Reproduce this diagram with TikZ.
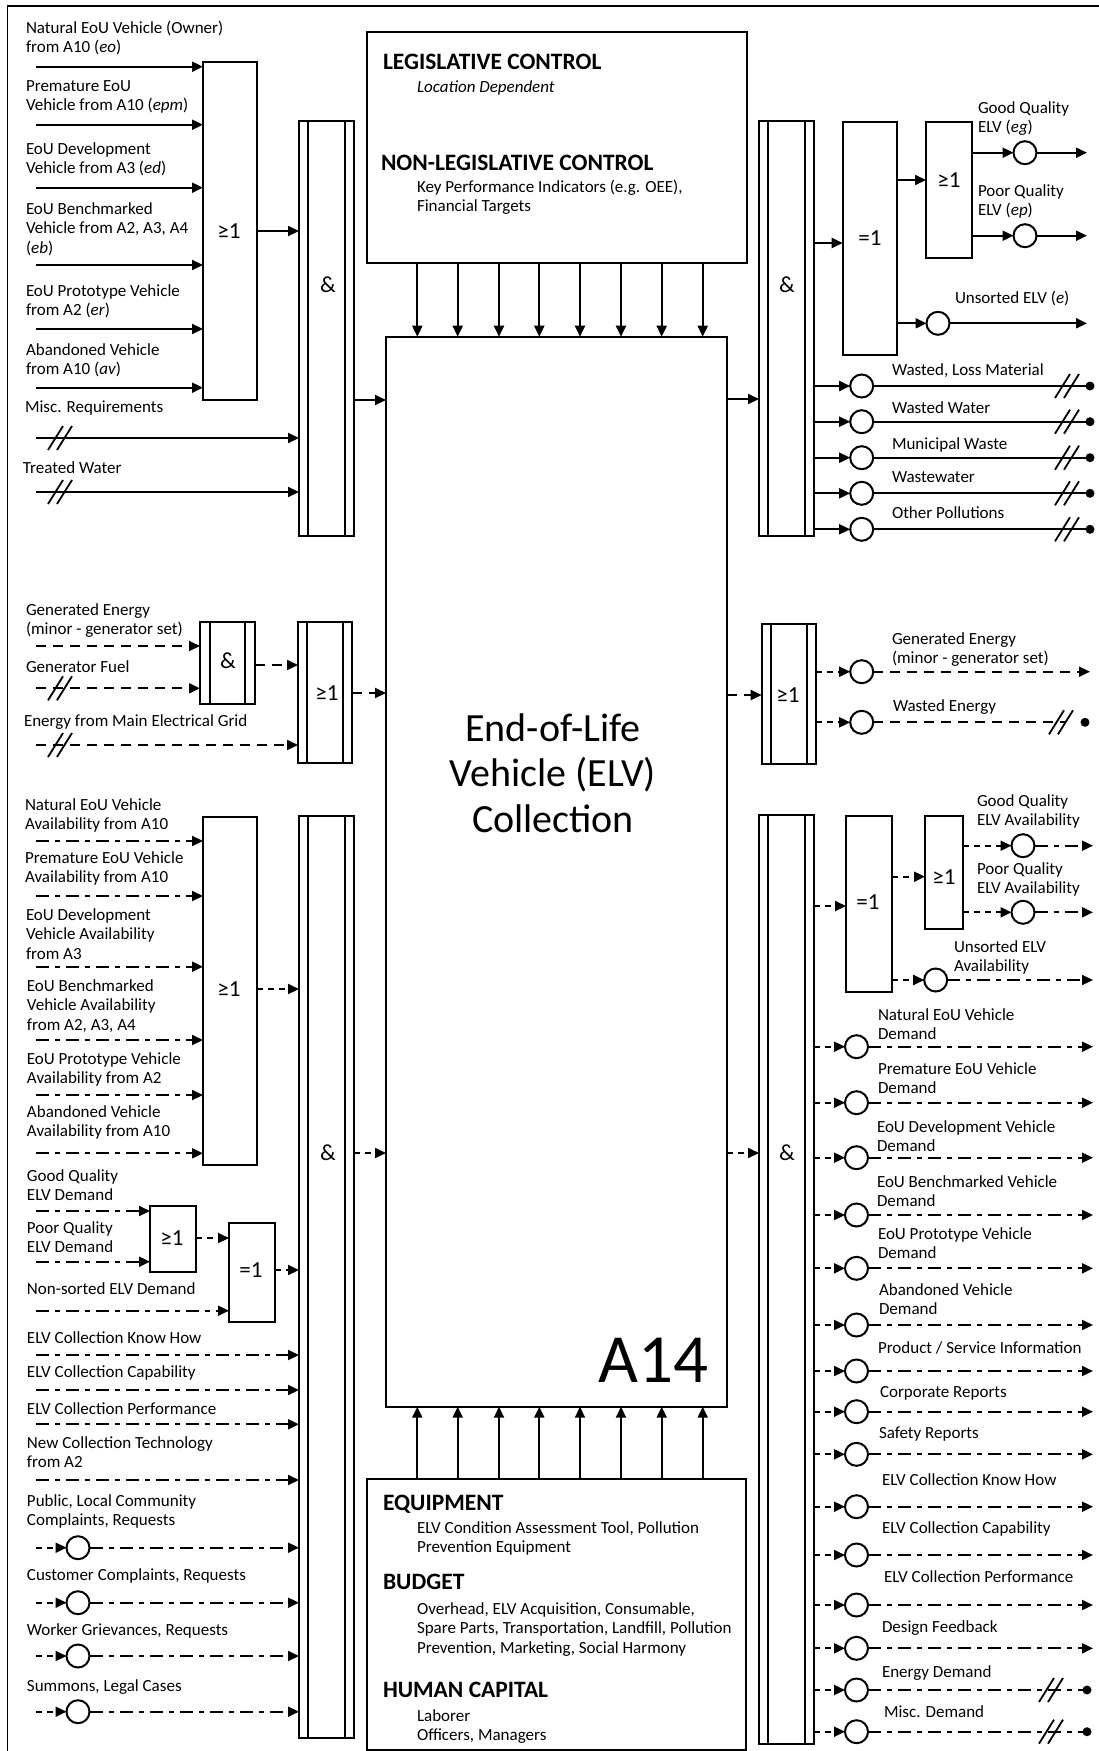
\documentclass[tikz,border=0pt]{standalone}
\usepackage{fontspec}
\setmainfont{Carlito}
\usetikzlibrary{arrows.meta}
\newcommand\dblbar[2]{%
  \draw[ln] ([xshift=#2]#1.north west) -- ([xshift=#2]#1.south west);
  \draw[ln] ([xshift=-#2]#1.north east) -- ([xshift=-#2]#1.south east);}
\newcommand\gbox[5]{\node[box, minimum width=#4pt, minimum height=#5pt] (#1) at (#2,#3) {};}
\newcommand\ml[1]{\begin{tabular}[t]{@{}l@{}}#1\end{tabular}}
\begin{document}
\begin{tikzpicture}[x=1pt,y=-1pt,
  every node/.style={inner sep=0pt, outer sep=0pt},
  ln/.style={line width=2pt},
  box/.style={draw, line width=2pt, anchor=north west, rectangle},
  gt/.style={font=\fontsize{23}{26}\selectfont},
  arr/.style={line width=2pt,-{Triangle[length=11pt,width=10pt]}},
  en/.style={dash pattern=on 10pt off 7pt},
  inf/.style={dash pattern=on 13pt off 6pt on 5pt off 6pt},
  sh/.style={dash pattern=on 6pt off 5pt},
  lab/.style={anchor=base west, font=\fontsize{17}{19.5}\selectfont},
  hd/.style={anchor=base west, font=\fontsize{23.5}{26}\selectfont\bfseries},
  circ/.style={circle, draw, line width=2pt, minimum size=23pt},
  dot/.style={circle, fill, minimum size=9pt},
  brk/.pic={\draw[line width=1.8pt,solid] (-12,12) -- (3,-12) (-3,12) -- (12,-12);}
]
\useasboundingbox (0,0) rectangle (1099,1751);
\draw[line width=1.5pt] (7.5,1760) -- (7.5,6) -- (1110,6);

% ---------- central boxes ----------
\gbox{ctrl}{367}{32}{380}{231}
\gbox{main}{386}{336.7}{340.5}{1070}
\gbox{mech}{367}{1479}{379}{271}

\node[hd] (h1) at (383,69) {LEGISLATIVE CONTROL};
\node[lab] (t1) at (417,92) {\textit{Location Dependent}};
\node[hd] (h2) at (381,170) {NON-LEGISLATIVE CONTROL};
\node[lab] (t2) at (417,192) {\ml{Key Performance Indicators (e.g. OEE),\\Financial Targets}};

\node[hd] (h3) at (383,1510) {EQUIPMENT};
\node[lab] (t3) at (417,1533) {\ml{ELV Condition Assessment Tool, Pollution\\Prevention Equipment}};
\node[hd] (h4) at (383,1589) {BUDGET};
\node[lab] (t4) at (417,1614) {\ml{Overhead, ELV Acquisition, Consumable,\\Spare Parts, Transportation, Landfill, Pollution\\Prevention, Marketing, Social Harmony}};
\node[hd] (h5) at (383,1697) {HUMAN CAPITAL};
\node[lab] (t5) at (417,1721) {\ml{Laborer\\Officers, Managers}};

\node[font=\fontsize{40}{45.5}\selectfont, align=center] (ttl) at (553,773) {End-of-Life\\Vehicle (ELV)\\Collection};
\node[font=\fontsize{69}{69}\selectfont] (a14) at (653,1360) {A14};

\foreach \x in {417.3,457.7,499,539.3,580,621,661.7,702.7}{
  \draw[arr] (\x,0 |- ctrl.south) -- (\x,0 |- main.north);
  \draw[arr] (\x,0 |- mech.north) -- (\x,0 |- main.south);
}

% ---------- gates ----------
\gbox{gA}{203}{62}{54}{338}
\gbox{andA}{299}{121}{55}{415} \dblbar{andA}{9pt}
\gbox{andE}{200}{621.7}{55}{82.3} \dblbar{andE}{10pt}
\gbox{orE}{298}{621.7}{54}{141} \dblbar{orE}{9pt}
\gbox{gB}{203}{816.7}{54}{348.3}
\gbox{andB}{299}{816}{55}{922} \dblbar{andB}{9pt}
\gbox{gC}{150}{1206}{46}{65.7}
\gbox{gD}{229}{1223}{46}{98.7}
\gbox{andR1}{759}{120.7}{54.5}{415.3} \dblbar{andR1}{9pt}
\gbox{gE}{842.7}{121.7}{54}{233.3}
\gbox{gF}{926}{121.7}{45.7}{136.6}
\gbox{orR}{761.7}{624}{54}{140} \dblbar{orR}{9pt}
\gbox{andR2}{759}{815}{54.5}{929} \dblbar{andR2}{9pt}
\gbox{gG}{846}{816}{45.7}{175.7}
\gbox{gH}{925}{816}{37.7}{113}

\node[gt] (tgA) at (229,231) {≥1};
\node[gt] (tandA) at (328,285) {\&};
\node[gt] (tandE) at (228,661) {\&};
\node[gt] (torE) at (327,693) {≥1};
\node[gt] (tgB) at (229,989) {≥1};
\node[gt] (tandB) at (328,1153) {\&};
\node[gt] (tgC) at (172,1238) {≥1};
\node[gt] (tgD) at (251,1270) {=1};
\node[gt] (tandR1) at (787,285) {\&};
\node[gt] (tgE) at (870,238) {=1};
\node[gt] (tgF) at (949,180) {≥1};
\node[gt] (torR) at (788,695) {≥1};
\node[gt] (tandR2) at (787,1153) {\&};
\node[gt] (tgG) at (868,902) {=1};
\node[gt] (tgH) at (944,877) {≥1};

% ---------- left top (material) ----------
\foreach \y [count=\i] in {66.7,124.7,187.7,265,329,387.7}{
  \coordinate (ia\i) at (36,\y);
  \draw[arr] (ia\i) -- (ia\i -| gA.west);
}
\draw[arr] (gA.east |- 0,231) -- (andA.west |- 0,231);
\coordinate (im1) at (36,438); \draw[arr] (im1) -- (im1 -| andA.west); \pic at (60,438) {brk};
\coordinate (im2) at (36,492); \draw[arr] (im2) -- (im2 -| andA.west); \pic at (60,492) {brk};
\draw[arr] (andA.east |- 0,400) -- (main.west |- 0,400);

\node[lab] (la1) at (26,33) {\ml{Natural EoU Vehicle (Owner)\\from A10 (\textit{eo})}};
\node[lab] (la2) at (26,91) {\ml{Premature EoU\\Vehicle from A10 (\textit{epm})}};
\node[lab] (la3) at (26,154) {\ml{EoU Development\\Vehicle from A3 (\textit{ed})}};
\node[lab] (la4) at (26,214) {\ml{EoU Benchmarked\\Vehicle from A2, A3, A4\\(\textit{eb})}};
\node[lab] (la5) at (26,296) {\ml{EoU Prototype Vehicle\\from A2 (\textit{er})}};
\node[lab] (la6) at (26,355) {\ml{Abandoned Vehicle\\from A10 (\textit{av})}};
\node[lab] (la7) at (25,412) {Misc. Requirements};
\node[lab] (la8) at (23,473) {Treated Water};

% ---------- left energy ----------
\coordinate (ie1) at (36,646); \draw[arr,en] (ie1) -- (ie1 -| andE.west);
\coordinate (ie2) at (36,688.3); \draw[arr,en] (ie2) -- (ie2 -| andE.west); \pic at (60,688.3) {brk};
\draw[arr,en] (andE.east |- 0,665) -- (orE.west |- 0,665);
\coordinate (ie3) at (36,745); \draw[arr,en] (ie3) -- (ie3 -| orE.west); \pic at (60,745) {brk};
\draw[arr,en] (orE.east |- 0,693) -- (main.west |- 0,693);

\node[lab] (le1) at (26,615) {\ml{Generated Energy\\(minor - generator set)}};
\node[lab] (le2) at (26,672) {Generator Fuel};
\node[lab] (le3) at (24,726) {Energy from Main Electrical Grid};

% ---------- left information ----------
\foreach \y [count=\i] in {841,896,966.7,1040,1095,1153.3}{
  \coordinate (ib\i) at (36,\y);
  \draw[arr,inf] (ib\i) -- (ib\i -| gB.west);
}
\draw[arr,sh] (gB.east |- 0,989) -- (andB.west |- 0,989);
\coordinate (ig1) at (36,1211); \draw[arr,inf] (ig1) -- (ig1 -| gC.west);
\coordinate (ig2) at (36,1261.7); \draw[arr,inf] (ig2) -- (ig2 -| gC.west);
\draw[arr,sh] (gC.east |- 0,1238) -- (gD.west |- 0,1238);
\coordinate (ig3) at (36,1310.7); \draw[arr,inf] (ig3) -- (ig3 -| gD.west);
\draw[arr,sh] (gD.east |- 0,1270) -- (andB.west |- 0,1270);
\foreach \y [count=\i] in {1355,1390,1424.3,1480}{
  \coordinate (ik\i) at (36,\y);
  \draw[arr,inf] (ik\i) -- (ik\i -| andB.west);
}
\foreach \y [count=\i] in {1547.7,1602.7,1656,1711.7}{
  \coordinate (ic\i) at (36,\y);
  \node[circ] (cc\i) at (78,\y) {};
  \draw[arr,sh] (ic\i) -- (cc\i.west);
  \draw[arr,inf] (cc\i.east) -- (cc\i.east -| andB.west);
}
\draw[arr,sh] (andB.east |- 0,1153) -- (main.west |- 0,1153);

\node[lab] (lb1) at (25,810) {\ml{Natural EoU Vehicle\\Availability from A10}};
\node[lab] (lb2) at (25,863) {\ml{Premature EoU Vehicle\\Availability from A10}};
\node[lab] (lb3) at (26,920) {\ml{EoU Development\\Vehicle Availability\\from A3}};
\node[lab] (lb4) at (27,991) {\ml{EoU Benchmarked\\Vehicle Availability\\from A2, A3, A4}};
\node[lab] (lb5) at (27,1064) {\ml{EoU Prototype Vehicle\\Availability from A2}};
\node[lab] (lb6) at (27,1117) {\ml{Abandoned Vehicle\\Availability from A10}};
\node[lab] (lb7) at (27,1181) {\ml{Good Quality\\ELV Demand}};
\node[lab] (lb8) at (27,1233) {\ml{Poor Quality\\ELV Demand}};
\node[lab] (lb9) at (27,1294) {Non-sorted ELV Demand};
\node[lab] (lb10) at (27,1343) {ELV Collection Know How};
\node[lab] (lb11) at (27,1377) {ELV Collection Capability};
\node[lab] (lb12) at (27,1414) {ELV Collection Performance};
\node[lab] (lb13) at (27,1448) {\ml{New Collection Technology\\from A2}};
\node[lab] (lb14) at (27,1506) {\ml{Public, Local Community\\Complaints, Requests}};
\node[lab] (lb15) at (27,1580) {Customer Complaints, Requests};
\node[lab] (lb16) at (27,1635) {Worker Grievances, Requests};
\node[lab] (lb17) at (27,1691) {Summons, Legal Cases};

% ---------- right top (material) ----------
\draw[arr] (main.east |- 0,399) -- (andR1.west |- 0,399);
\draw[arr] (andR1.east |- 0,243) -- (gE.west |- 0,243);
\draw[arr] (gE.east |- 0,180) -- (gF.west |- 0,180);
\foreach \y/\n in {152.7/1,235.7/2}{
  \node[circ] (cq\n) at (1025,\y) {};
  \coordinate (oq\n) at (1087,\y);
  \draw[arr] (gF.east |- cq\n) -- (cq\n.west);
  \draw[arr] (cq\n.east) -- (oq\n);
}
\node[circ] (cu) at (938,323.3) {};
\coordinate (ou) at (1087,323.3);
\draw[arr] (gE.east |- cu) -- (cu.west);
\draw[arr] (cu.east) -- (ou);
\foreach \y [count=\i] in {386,421.7,457.7,493.3,529.3}{
  \node[circ] (cw\i) at (861.7,\y) {};
  \node[dot] (dw\i) at (1090,\y) {};
  \draw[arr] (andR1.east |- cw\i) -- (cw\i.west);
  \draw[ln] (cw\i.east) -- (dw\i.center);
  \pic at (1067,\y) {brk};
}
\node[lab] (lr1) at (978,113) {\ml{Good Quality\\ELV (\textit{eg})}};
\node[lab] (lr2) at (978,196) {\ml{Poor Quality\\ELV (\textit{ep})}};
\node[lab] (lr3) at (955,303) {Unsorted ELV (\textit{e})};
\node[lab] (lw1) at (892,375) {Wasted, Loss Material};
\node[lab] (lw2) at (892,413) {Wasted Water};
\node[lab] (lw3) at (892,449) {Municipal Waste};
\node[lab] (lw4) at (892,482) {Wastewater};
\node[lab] (lw5) at (892,518) {Other Pollutions};

% ---------- right energy ----------
\draw[arr,en] (main.east |- 0,695) -- (orR.west |- 0,695);
\node[circ] (ce1) at (861.7,671.7) {};
\coordinate (oe1) at (1090,671.7);
\draw[arr,sh] (orR.east |- ce1) -- (ce1.west);
\draw[arr,en] (ce1.east) -- (oe1);
\node[circ] (ce2) at (861.7,722.3) {};
\node[dot] (de2) at (1085,722.3) {};
\coordinate (we) at (1066,722.3);
\draw[arr,sh] (orR.east |- ce2) -- (ce2.west);
\draw[ln,en] (ce2.east) -- (we);
\pic at (1061,722.3) {brk};
\node[lab] (lq1) at (892,644) {\ml{Generated Energy\\(minor - generator set)}};
\node[lab] (lq2) at (893,711) {Wasted Energy};

% ---------- right information ----------
\draw[arr,sh] (main.east |- 0,1153) -- (andR2.west |- 0,1153);
\draw[arr,sh] (andR2.east |- 0,906) -- (gG.west |- 0,906);
\draw[arr,sh] (gG.east |- 0,876.7) -- (gH.west |- 0,876.7);
\foreach \y/\n in {845.7/1,912.3/2}{
  \node[circ] (ca\n) at (1023,\y) {};
  \coordinate (oa\n) at (1093,\y);
  \draw[arr,sh] (gH.east |- ca\n) -- (ca\n.west);
  \draw[arr,inf] (ca\n.east) -- (oa\n);
}
\node[circ] (cv) at (935.7,980) {};
\coordinate (ov) at (1093,980);
\draw[arr,sh] (gG.east |- cv) -- (cv.west);
\draw[arr,inf] (cv.east) -- (ov);
\foreach \y [count=\i] in {1046.7,1102.7,1157.7,1215,1268.3,1325,1371,1411.7,1454.3,1506.7,1555,1605,1648.3}{
  \node[circ] (cd\i) at (856.5,\y) {};
  \coordinate (od\i) at (1093,\y);
  \draw[arr,sh] (andR2.east |- cd\i) -- (cd\i.west);
  \draw[arr,inf] (cd\i.east) -- (od\i);
}
\foreach \y [count=\i] in {1690,1731.7}{
  \node[circ] (cx\i) at (856.5,\y) {};
  \node[dot] (dx\i) at (1087,\y) {};
  \draw[arr,sh] (andR2.east |- cx\i) -- (cx\i.west);
  \draw[ln,inf] (cx\i.east) -- (dx\i.center);
  \pic at (1051,\y) {brk};
}
\node[lab] (lm1) at (977,806) {\ml{Good Quality\\ELV Availability}};
\node[lab] (lm2) at (977,874) {\ml{Poor Quality\\ELV Availability}};
\node[lab] (lm3) at (954,952) {\ml{Unsorted ELV\\Availability}};
\node[lab] (ld1) at (878,1020) {\ml{Natural EoU Vehicle\\Demand}};
\node[lab] (ld2) at (878,1074) {\ml{Premature EoU Vehicle\\Demand}};
\node[lab] (ld3) at (877,1132) {\ml{EoU Development Vehicle\\Demand}};
\node[lab] (ld4) at (877,1187) {\ml{EoU Benchmarked Vehicle\\Demand}};
\node[lab] (ld5) at (878,1239) {\ml{EoU Prototype Vehicle\\Demand}};
\node[lab] (ld6) at (879,1295) {\ml{Abandoned Vehicle\\Demand}};
\node[lab] (ld7) at (878,1353) {Product / Service Information};
\node[lab] (ld8) at (880,1397) {Corporate Reports};
\node[lab] (ld9) at (879,1438) {Safety Reports};
\node[lab] (ld10) at (882,1485) {ELV Collection Know How};
\node[lab] (ld11) at (882,1533) {ELV Collection Capability};
\node[lab] (ld12) at (884,1582) {ELV Collection Performance};
\node[lab] (ld13) at (882,1632) {Design Feedback};
\node[lab] (ld14) at (882,1677) {Energy Demand};
\node[lab] (ld15) at (884,1717) {Misc. Demand};
\end{tikzpicture}
\end{document}
